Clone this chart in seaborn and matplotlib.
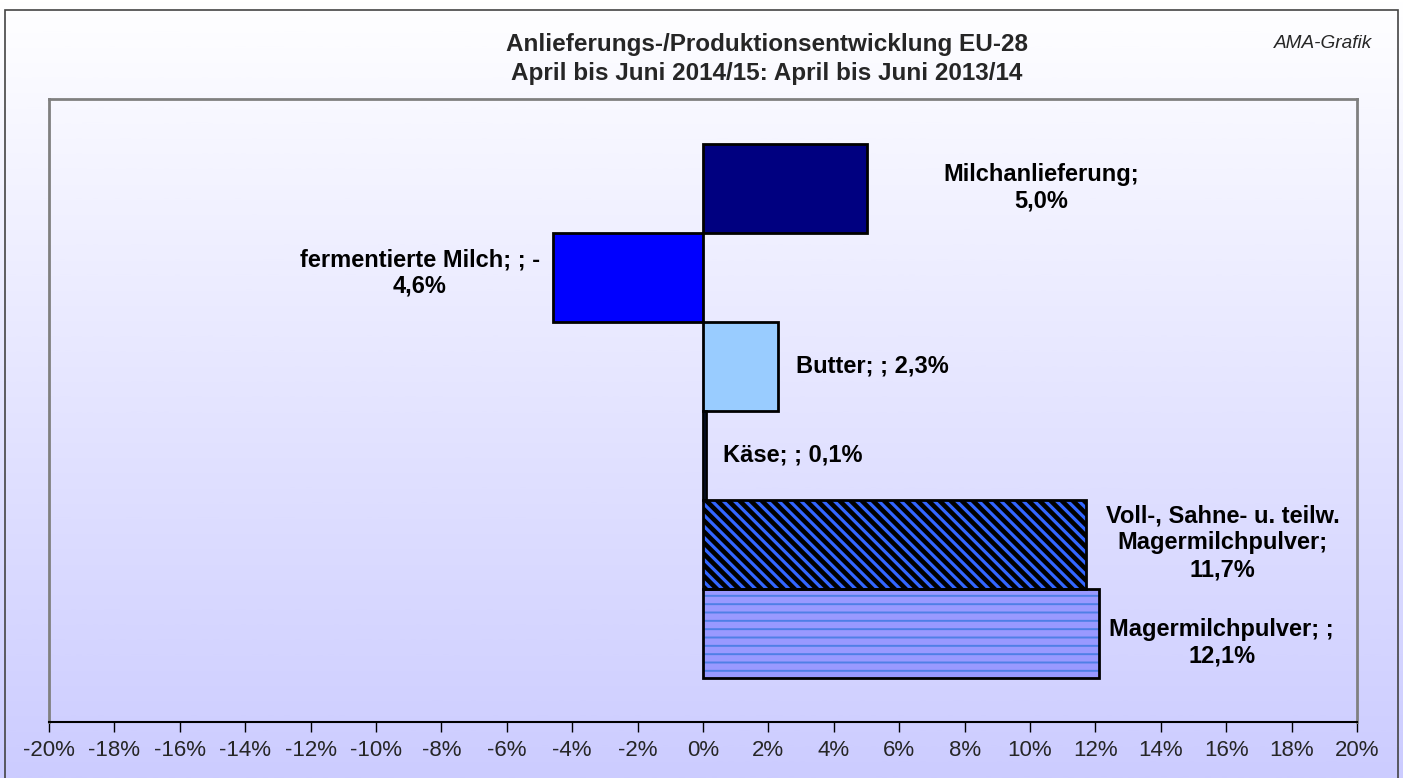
import numpy as np
import pandas as pd
import matplotlib
matplotlib.use("Agg")
import matplotlib.pyplot as plt
import seaborn as sns
from matplotlib.patches import Rectangle
from matplotlib.colors import LinearSegmentedColormap
from matplotlib.ticker import FuncFormatter

# ---------------- data ----------------
categories = ["Milchanlieferung", "fermentierte Milch", "Butter", "Käse",
              "Voll-, Sahne- u. teilw. Magermilchpulver", "Magermilchpulver"]
changes = [5.0, -4.6, 2.3, 0.1, 11.7, 12.1]
bar_labels = ["Milchanlieferung;\n5,0%",
              "fermentierte Milch; ; -\n4,6%",
              "Butter; ; 2,3%",
              "Käse; ; 0,1%",
              "Voll-, Sahne- u. teilw.\nMagermilchpulver;\n11,7%",
              "Magermilchpulver; ;\n12,1%"]
x_ticks = list(range(-20, 21, 2))
title_lines = ["Anlieferungs-/Produktionsentwicklung EU-28",
               "April bis Juni 2014/15: April bis Juni 2013/14"]
credit = "AMA-Grafik"

# ---------------- style ----------------
bar_colors = ["#000080", "#0000FF", "#99CCFF", "#3366FF", "#000000", "#9999FF"]
bar_hatches = [None, None, None, None, "\\\\\\", "--"]
hatch_colors = [None, None, None, None, "#3366FF", "#4F7FE6"]
hatch_widths = [None, None, None, None, 2.3, 1.4]
# label centre offsets from bar end, in pixels (dx right, dy down)
label_offsets = [(175, 0), (-133, -4), (94, 0), (86, 0), (137, -1), (123, 10)]

sns.set_theme(style="white")
plt.rcParams["font.family"] = ["Liberation Sans", "DejaVu Sans"]
plt.rcParams["hatch.linewidth"] = 2.3

W, H = 1403, 778
fig = plt.figure(figsize=(W / 100, H / 100), dpi=100)

# background gradient
bg = fig.add_axes([0, 0, 1, 1], zorder=0)
cmap = LinearSegmentedColormap.from_list("bg", ["#FFFFFF", "#CCCCFF"])
bg.imshow(np.linspace(0, 1, 512).reshape(-1, 1), aspect="auto", cmap=cmap,
          extent=[0, 1, 0, 1], origin="upper")
bg.axis("off")

ax = fig.add_axes([49 / W, (H - 722) / H, 1308 / W, 623 / H], zorder=1)
ax.patch.set_alpha(0)

df = pd.DataFrame({"cat": categories, "val": changes})
sns.barplot(data=df, x="val", y="cat", hue="cat", palette=bar_colors,
            orient="h", width=1, saturation=1, legend=False, errorbar=None,
            linewidth=0, ax=ax)

for cont, hatch, hc, hw in zip(ax.containers, bar_hatches, hatch_colors, hatch_widths):
    if hatch:
        for p in cont:
            p.set_hatch(hatch)
            p.set_edgecolor(hc)
            p.set_linewidth(0)
            if hasattr(p, "set_hatch_linewidth"):
                p.set_hatch_linewidth(hw)

# outlines
sns.barplot(data=df, x="val", y="cat", orient="h", width=1, fill=False,
            color="black", linewidth=2, errorbar=None, ax=ax)

ax.set_ylim(len(categories), -1)
ax.set_xlim(-20, 20)
ax.set_xticks(x_ticks)
ax.xaxis.set_major_formatter(FuncFormatter(lambda v, p: f"{v:.0f}%"))
ax.set_yticks([])
ax.set_xlabel("")
ax.set_ylabel("")
ax.tick_params(axis="x", direction="out", length=7, width=1, color="black",
               labelsize=16, pad=6, bottom=True)

for side in ["left", "top", "right"]:
    ax.spines[side].set_color("#808080")
    ax.spines[side].set_linewidth(2)
ax.spines["bottom"].set_color("black")
ax.spines["bottom"].set_linewidth(1.5)

for i, (v, lab, (dx, dy)) in enumerate(zip(changes, bar_labels, label_offsets)):
    ax.annotate(lab, xy=(v, i), xytext=(dx, -dy), textcoords="offset pixels",
                ha="center", va="center", fontsize=17, fontweight="bold",
                multialignment="center", color="black", linespacing=1.2)

fig.text(767 / W, 1 - 59 / H, "\n".join(title_lines), ha="center", va="center",
         fontsize=17.5, fontweight="bold", linespacing=1.3)
fig.text(1372 / W, 1 - 43 / H, credit, ha="right", va="center",
         fontsize=13.7, style="italic")

fig.add_artist(Rectangle((5 / W, -0.01), (1398 - 5) / W, (H - 10) / H + 0.01,
                         transform=fig.transFigure, fill=False,
                         edgecolor="#444444", linewidth=1.2, zorder=5))

fig.savefig("out.png", dpi=100)
